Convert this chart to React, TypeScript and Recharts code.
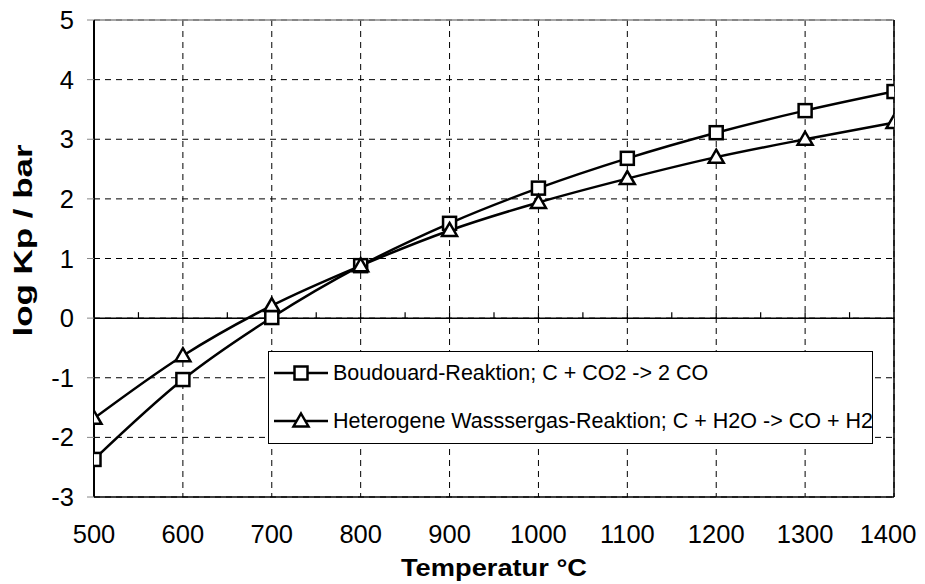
import React from 'react';
import { LineChart, Line, XAxis, YAxis, CartesianGrid, ReferenceLine } from 'recharts';

const temperatures = [500, 600, 700, 800, 900, 1000, 1100, 1200, 1300, 1400];
const boudouard = [-2.37, -1.03, 0.01, 0.88, 1.59, 2.18, 2.68, 3.11, 3.48, 3.8];
const wassergas = [-1.68, -0.63, 0.21, 0.88, 1.47, 1.94, 2.34, 2.7, 3.0, 3.28];
const xTicks = [500, 600, 700, 800, 900, 1000, 1100, 1200, 1300, 1400];
const yTicks = [-3, -2, -1, 0, 1, 2, 3, 4, 5];
const minorTicks = [550, 600, 650, 700, 750, 800, 850, 900, 950, 1000, 1050, 1100, 1150, 1200, 1250, 1300, 1350];
const seriesNames = ['Boudouard-Reaktion; C + CO2 -> 2 CO', 'Heterogene Wasssergas-Reaktion; C + H2O -> CO + H2'];
const xTitle = 'Temperatur °C';
const yTitle = 'log Kp / bar';

const data = temperatures.map((t, i) => ({ t, b: boudouard[i], w: wassergas[i] }));

const FONT = '"Liberation Sans", Arial, sans-serif';

const SquareDot = (props: any) => {
  const { cx, cy, key } = props;
  if (cx == null || cy == null) return null;
  return <rect key={key} x={cx - 6.5} y={cy - 6.5} width={13} height={13} fill="#fff" stroke="#000" strokeWidth={2.5} />;
};

const TriangleDot = (props: any) => {
  const { cx, cy, key } = props;
  if (cx == null || cy == null) return null;
  return (
    <path key={key} d={`M${cx},${cy - 7.5} L${cx + 7.5},${cy + 5.5} L${cx - 7.5},${cy + 5.5} Z`} fill="#fff" stroke="#000" strokeWidth={2.5} strokeLinejoin="miter" />
  );
};

const XTick = (props: any) => {
  const { x, y, payload } = props;
  const isLast = payload.value === xTicks[xTicks.length - 1];
  return (
    <text x={x} y={y} dx={isLast ? -6 : 0} dy="0.71em" textAnchor="middle" fontFamily={FONT} fontSize={25.5} fill="#000">
      {payload.value}
    </text>
  );
};

const LegendBox = () => (
  <div style={{ position: 'absolute', left: 260, top: 351, width: 605, height: 93, boxSizing: 'border-box', border: '1.5px solid #000', background: '#fff', fontFamily: FONT, fontSize: 21.5, color: '#000' }}>
    {seriesNames.map((name, i) => (
      <div key={name} style={{ position: 'absolute', left: 4, top: i === 0 ? 7 : 55, height: 28, display: 'flex', alignItems: 'center', whiteSpace: 'nowrap' }}>
        <svg width={56} height={28} style={{ display: 'block' }}>
          <line x1={1} y1={14} x2={55} y2={14} stroke="#000" strokeWidth={2.5} />
          {i === 0 ? (
            <rect x={21.5} y={7.5} width={13} height={13} fill="#fff" stroke="#000" strokeWidth={2.5} />
          ) : (
            <path d="M28,6.5 L35.5,19.5 L20.5,19.5 Z" fill="#fff" stroke="#000" strokeWidth={2.5} />
          )}
        </svg>
        <span style={{ marginLeft: 4 }}>{name}</span>
      </div>
    ))}
  </div>
);

const YTitle = (props: any) => {
  const vb = props.viewBox || {};
  const x = 24;
  const y = (vb.y ?? 20) + (vb.height ?? 477) / 2 - 18;
  return (
    <text x={x} y={y} transform={`rotate(-90, ${x}, ${y})`} textAnchor="middle" fontFamily={FONT} fontSize={26} fontWeight="bold" fill="#000" textLength={192} lengthAdjust="spacingAndGlyphs">
      {yTitle}
    </text>
  );
};

const XTitle = (props: any) => {
  const vb = props.viewBox || {};
  const x = (vb.x ?? 86) + (vb.width ?? 800) / 2;
  const y = (vb.y ?? 497) + 79;
  return (
    <text x={x} y={y} textAnchor="middle" fontFamily={FONT} fontSize={24} fontWeight="bold" fill="#000" textLength={186} lengthAdjust="spacingAndGlyphs">
      {xTitle}
    </text>
  );
};

export default function App() {
  return (
    <div style={{ position: 'relative', width: 917, height: 584, marginTop: -8 }}>
      <style>{`html, body { overflow: hidden !important; } .recharts-surface, .recharts-wrapper { overflow: visible !important; }`}</style>
      <LineChart width={917} height={584} data={data} margin={{ top: 20, right: 31, left: 26, bottom: 57 }} style={{ fontFamily: FONT }}>
        <CartesianGrid stroke="#000" strokeDasharray="6 5" strokeWidth={1} />
        <XAxis
          dataKey="t"
          type="number"
          domain={[500, 1400]}
          ticks={xTicks}
          height={30}
          tickLine={false}
          tickSize={0}
          tickMargin={28}
          axisLine={{ stroke: '#000', strokeWidth: 1.5 }}
          tick={<XTick />}
          label={<XTitle />}
          allowDataOverflow
        />
        <YAxis
          type="number"
          domain={[-3, 5]}
          ticks={yTicks}
          width={60}
          tickSize={7}
          tickMargin={13}
          tickLine={{ stroke: '#888', strokeWidth: 1 }}
          axisLine={{ stroke: '#000', strokeWidth: 2 }}
          tick={{ fill: '#000', fontSize: 25.5, fontFamily: FONT }}
          label={<YTitle />}
          allowDataOverflow
        />
        <ReferenceLine y={5} stroke="#888" strokeWidth={1.5} />
        <ReferenceLine x={1400} stroke="#000" strokeWidth={1.5} />
        <ReferenceLine y={0} stroke="#000" strokeWidth={1.5} />
        {minorTicks.map((m) => (
          <ReferenceLine key={m} segment={[{ x: m, y: 0 }, { x: m, y: 0.1 }]} stroke="#000" strokeWidth={1.2} />
        ))}
        <Line type="monotone" dataKey="b" name={seriesNames[0]} stroke="#000" strokeWidth={2.5} dot={SquareDot} activeDot={false} isAnimationActive={false} />
        <Line type="monotone" dataKey="w" name={seriesNames[1]} stroke="#000" strokeWidth={2.5} dot={TriangleDot} activeDot={false} isAnimationActive={false} />
      </LineChart>
      <LegendBox />
    </div>
  );
}
